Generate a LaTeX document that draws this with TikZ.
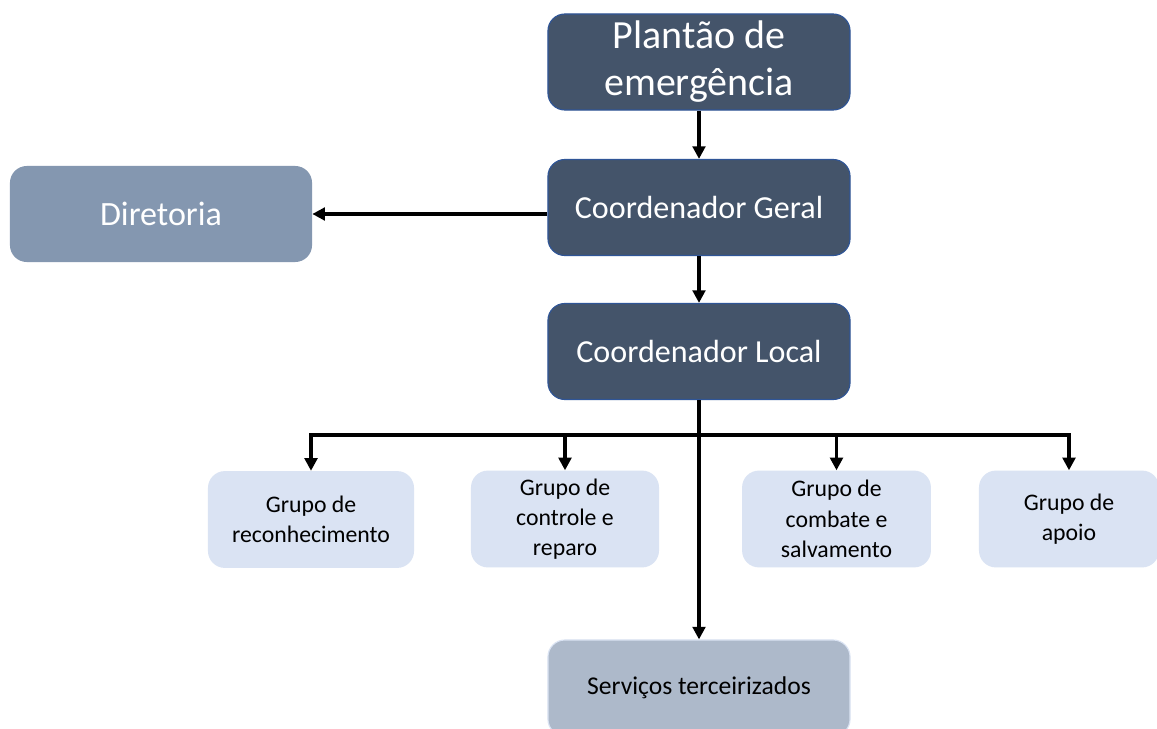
\documentclass[tikz,border=0pt]{standalone}
\usepackage{fontspec}
\setmainfont{Carlito}
\usepackage{tikz}
\usetikzlibrary{arrows.meta}
\definecolor{dark}{HTML}{44546A}
\definecolor{darkline}{HTML}{2F5597}
\definecolor{board}{HTML}{8497B0}
\definecolor{group}{HTML}{DAE3F3}
\definecolor{extern}{HTML}{ADB9CA}
\tikzset{
  head/.style={fill=dark, draw=darkline, line width=0.8pt, rounded corners=12pt,
    text=white, align=center, minimum width=7.55cm, minimum height=2.4cm,
    font=\fontsize{22.8}{27}\selectfont},
  dir/.style={fill=board, rounded corners=12pt, text=white, align=center,
    minimum width=7.55cm, minimum height=2.4cm, font=\fontsize{24.2}{29}\selectfont},
  grp/.style={fill=group, rounded corners=12pt, text=black, align=center,
    minimum height=2.42cm, font=\fontsize{16.9}{21.5}\selectfont},
  ext/.style={fill=extern, draw=group, line width=0.8pt, rounded corners=12pt,
    text=black, align=center, minimum width=7.55cm, minimum height=2.4cm,
    font=\fontsize{18.2}{22}\selectfont},
  link/.style={draw=black, line width=2.3pt, -{Triangle[length=9pt,width=9pt]}},
}
\begin{document}
\begin{tikzpicture}[x=0.025cm, y=-0.025cm]
  \clip (0,0) rectangle (1157,729);
  \fill[white] (0,0) rectangle (1157,729);
  % main chain
  \node[head, font=\fontsize{28.4}{33.5}\selectfont] (pe) at (699,62) {Plantão de\\emergência};
  \node[head] (cg) at (699,207.5) {Coordenador Geral};
  \node[head] (cl) at (699,351.5) {Coordenador Local};
  \node[dir] (dr) at (161,214) {Diretoria};
  % groups
  \node[grp, minimum width=5.15cm] (g1) at (311,519.5) {Grupo de\\reconhecimento};
  \node[grp, minimum width=4.7cm] (g2) at (565,519) {Grupo de\\controle e\\reparo};
  \node[grp, minimum width=4.72cm] (g3) at (836.5,519) {Grupo de\\combate e\\salvamento};
  \node[grp, minimum width=4.5cm] (g4) at (1069,519) {Grupo de\\apoio};
  \node[ext] (sv) at (699,688) {Serviços terceirizados};
  % connectors
  \coordinate (bus) at (699,435);
  \draw[link] (pe.south) -- (cg.north);
  \draw[link] (cg.south) -- (cl.north);
  \draw[link] (dr.east -| cg.west) -- (dr.east);
  \draw[link] (cl.south) -- (sv.north);
  \foreach \g in {g1,g2,g3,g4}
    \draw[link, line join=miter] (bus) -| (\g.north);
\end{tikzpicture}
\end{document}
